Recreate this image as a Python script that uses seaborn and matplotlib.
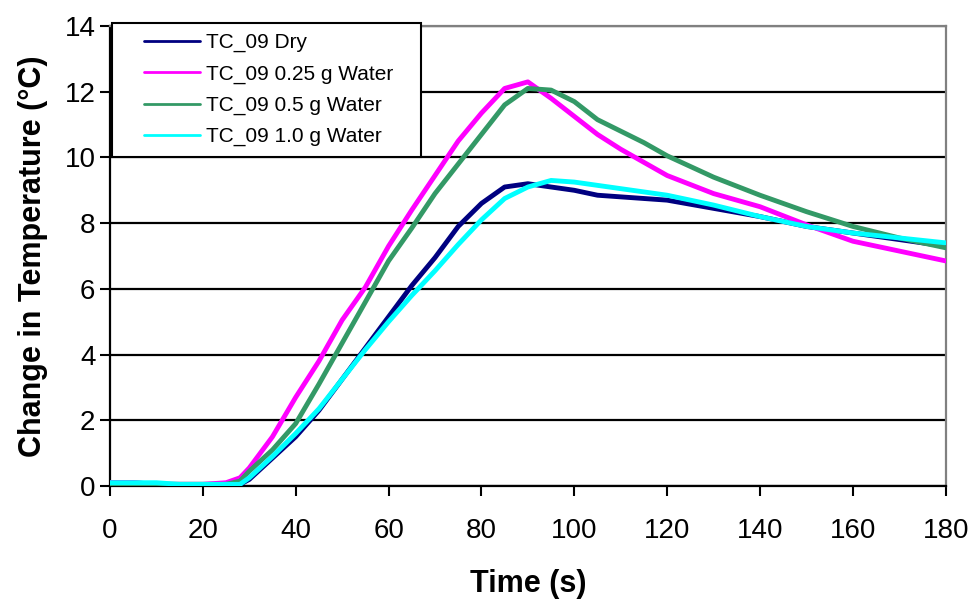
import matplotlib
matplotlib.use("Agg")
import matplotlib.pyplot as plt
from matplotlib.legend_handler import HandlerLine2D
import seaborn as sns
import pandas as pd
import numpy as np

# values
time_s = [0, 5, 10, 15, 20, 25, 28, 30, 35, 40, 45, 50, 55, 60, 65, 70, 75, 80,
          85, 90, 95, 100, 105, 110, 115, 120, 130, 140, 150, 160, 170, 180]
dry = [0.1, 0.1, 0.05, 0.05, 0.05, 0.05, 0.05, 0.2, 0.85, 1.5, 2.3, 3.25, 4.2, 5.15,
       6.1, 6.95, 7.9, 8.6, 9.1, 9.2, 9.1, 9.0, 8.85, 8.8, 8.75, 8.7, 8.45, 8.2,
       7.9, 7.7, 7.5, 7.3]
water_025 = [0.1, 0.1, 0.05, 0.05, 0.05, 0.1, 0.25, 0.55, 1.5, 2.7, 3.8, 5.05, 6.05,
             7.3, 8.4, 9.45, 10.5, 11.35, 12.1, 12.3, 11.8, 11.25, 10.7, 10.25, 9.85,
             9.45, 8.9, 8.5, 7.95, 7.45, 7.15, 6.85]
water_05 = [0.05, 0.05, 0.05, 0.05, 0.05, 0.05, 0.15, 0.45, 1.1, 1.9, 3.1, 4.35, 5.6,
            6.85, 7.85, 8.9, 9.8, 10.7, 11.6, 12.1, 12.05, 11.7, 11.15, 10.8, 10.45,
            10.05, 9.4, 8.85, 8.35, 7.9, 7.55, 7.25]
water_10 = [0.1, 0.1, 0.1, 0.05, 0.05, 0.05, 0.05, 0.25, 0.9, 1.6, 2.35, 3.25, 4.15,
            5.0, 5.8, 6.55, 7.35, 8.1, 8.75, 9.1, 9.3, 9.25, 9.15, 9.05, 8.95, 8.85,
            8.55, 8.2, 7.9, 7.7, 7.55, 7.4]

labels = ["TC_09 Dry", "TC_09 0.25 g Water", "TC_09 0.5 g Water", "TC_09 1.0 g Water"]
colors = ["#000080", "#FF00FF", "#339966", "#00FFFF"]

frames = []
for lab, vals in zip(labels, [dry, water_025, water_05, water_10]):
    frames.append(pd.DataFrame({"time": time_s, "temp": vals, "series": lab}))
df = pd.concat(frames, ignore_index=True)


class IndentedLine(HandlerLine2D):
    # legend line that leaves some blank space on its left, like the Excel legend
    def create_artists(self, legend, orig_handle, xdescent, ydescent, width,
                       height, fontsize, trans):
        artists = super().create_artists(legend, orig_handle, xdescent, ydescent,
                                         width, height, fontsize, trans)
        legline = artists[0]
        xd = np.asarray(legline.get_xdata(), dtype=float)
        if len(xd) >= 2:
            start = xd[0] + 0.27 * (xd[-1] - xd[0])
            legline.set_xdata(np.linspace(start, xd[-1], len(xd)))
        return artists


sns.set_style("white")
plt.rcParams["font.family"] = ["Liberation Sans", "DejaVu Sans"]
for key in ["text.color", "axes.labelcolor", "xtick.color", "ytick.color"]:
    plt.rcParams[key] = "black"

fig = plt.figure(figsize=(9.75, 6.05), dpi=100)
ax = fig.add_axes([0.1128, 0.1967, 0.8572, 0.7603])

sns.lineplot(data=df, x="time", y="temp", hue="series", hue_order=labels,
             palette=dict(zip(labels, colors)), linewidth=3.5, ax=ax, zorder=3)

ax.set_xlim(0, 180)
ax.set_ylim(0, 14)
ax.set_xticks(range(0, 181, 20))
ax.set_yticks(range(0, 15, 2))
ax.yaxis.grid(True, color="black", linewidth=1.6)
ax.set_axisbelow(True)

for side in ["left", "bottom"]:
    ax.spines[side].set_color("black")
    ax.spines[side].set_linewidth(1.6)
for side in ["top", "right"]:
    ax.spines[side].set_color("#808080")
    ax.spines[side].set_linewidth(1.6)

ax.tick_params(axis="both", which="major", direction="out", labelsize=20,
               length=7, width=1.5, color="black", bottom=True, left=True)
ax.tick_params(axis="x", pad=16)

ax.set_xlabel("Time (s)", fontsize=22, fontweight="bold", labelpad=18)
ax.set_ylabel("Change in Temperature (°C)", fontsize=22, fontweight="bold",
              labelpad=12)

handles, labs = ax.get_legend_handles_labels()
leg = ax.legend(handles, [l + "   " for l in labs], loc="upper left",
                bbox_to_anchor=(0.003, 1.007), borderaxespad=0,
                fontsize=15, handlelength=3.7, handletextpad=0.3, labelspacing=0.58,
                borderpad=0.5, fancybox=False, framealpha=1, edgecolor="black",
                handler_map={matplotlib.lines.Line2D: IndentedLine()})
leg.get_frame().set_linewidth(1.5)
leg.set_zorder(5)
for line in leg.get_lines():
    line.set_linewidth(2)

fig.savefig("out.png", dpi=100)
